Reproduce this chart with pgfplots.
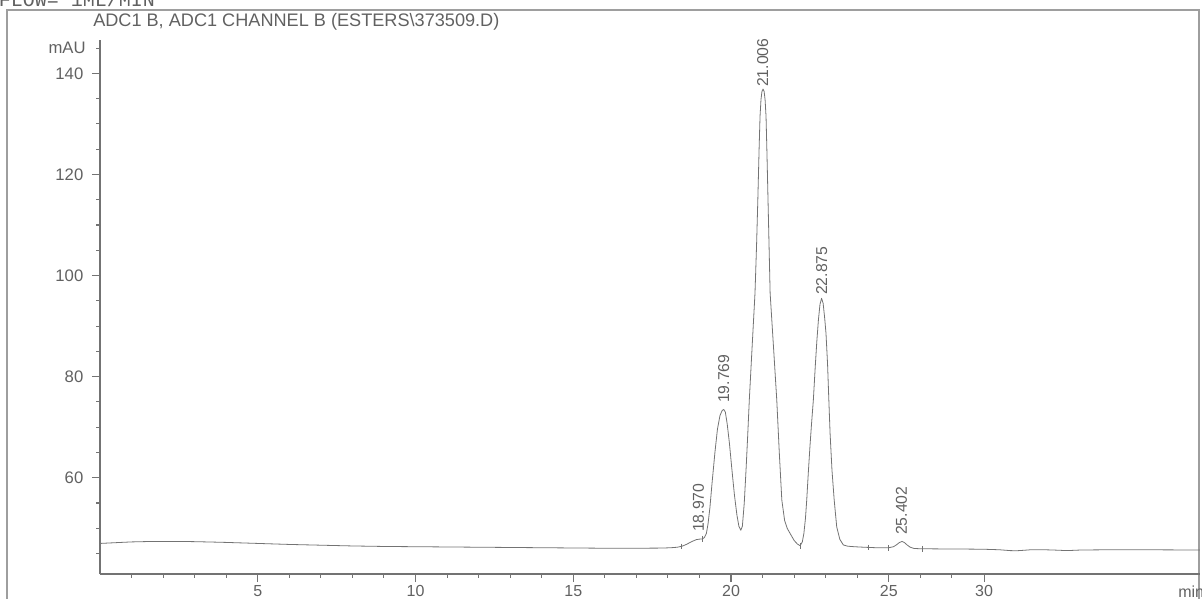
\documentclass[border=0pt]{standalone}
\usepackage{fontspec}
\setmainfont{Liberation Sans}
\newfontfamily\monofont{Liberation Mono}
\usepackage{pgfplots}
\pgfplotsset{compat=1.18}
\definecolor{txt}{gray}{0.38}
\definecolor{crv}{gray}{0.45}
\definecolor{axl}{gray}{0.45}
\definecolor{frm}{gray}{0.62}

\pgfplotstableread{
x y
0.00 47.00
0.50 47.15
1.00 47.30
1.50 47.37
2.00 47.40
2.50 47.40
3.00 47.35
3.50 47.28
4.00 47.20
4.50 47.10
5.00 47.00
5.50 46.90
6.00 46.80
7.00 46.65
8.00 46.50
9.00 46.40
10.00 46.35
11.00 46.30
12.00 46.25
13.00 46.20
14.00 46.15
15.00 46.10
16.00 46.05
17.00 46.05
17.80 46.08
18.10 46.15
18.30 46.25
18.45 46.45
18.60 46.85
18.75 47.35
18.90 47.75
19.00 47.85
19.10 47.90
19.16 48.20
19.22 49.00
19.27 50.80
19.33 54.00
19.40 59.00
19.49 65.00
19.57 69.60
19.65 72.30
19.72 73.30
19.77 73.50
19.82 73.00
19.88 70.60
19.95 66.80
20.03 61.50
20.11 56.50
20.19 52.50
20.25 50.40
20.31 49.60
20.36 50.40
20.42 55.00
20.48 62.00
20.53 68.50
20.58 75.40
20.64 82.50
20.70 89.50
20.76 96.50
20.81 106.00
20.85 115.00
20.89 125.00
20.92 131.50
20.95 134.80
20.98 136.40
21.015 136.90
21.05 136.40
21.08 134.80
21.11 131.50
21.14 124.00
21.18 113.00
21.24 96.50
21.30 90.50
21.37 83.50
21.45 75.40
21.53 65.00
21.61 55.60
21.70 51.50
21.78 50.00
21.87 49.00
22.00 47.60
22.10 46.90
22.19 46.55
22.26 47.30
22.31 49.00
22.36 52.00
22.40 55.60
22.45 61.00
22.50 66.00
22.55 70.50
22.61 75.40
22.67 82.00
22.72 87.00
22.77 91.20
22.82 94.30
22.87 95.50
22.92 94.50
22.97 91.50
23.01 88.60
23.06 82.50
23.10 75.50
23.14 68.80
23.20 61.50
23.27 55.60
23.35 50.30
23.45 47.80
23.56 46.70
23.70 46.45
23.90 46.35
24.20 46.25
24.60 46.15
25.00 46.15
25.15 46.35
25.25 46.75
25.33 47.15
25.42 47.40
25.50 47.15
25.58 46.70
25.68 46.25
25.80 46.00
26.00 45.95
26.50 45.92
27.00 45.90
27.50 45.88
28.00 45.85
28.50 45.75
28.85 45.58
29.05 45.55
29.30 45.65
29.50 45.75
29.90 45.75
30.20 45.70
30.50 45.62
30.80 45.62
31.10 45.70
31.50 45.72
32.00 45.75
33.00 45.75
34.00 45.72
34.86 45.70
}\signal

\pgfplotstableread{
x y lab
18.970 48.72 18.970
19.769 74.25 19.769
21.006 136.75 21.006
22.875 95.60 22.875
25.402 48.13 25.402
}\peaks

\begin{document}
\begin{tikzpicture}
\useasboundingbox (0,0) rectangle (901.5pt,-449.25pt);
\draw[frm, line width=1.1pt] (5.25pt,-7.5pt) rectangle (899.25pt,-470pt);
\node[anchor=base west, inner sep=0pt, font=\monofont\fontsize{15}{15}\selectfont, text=txt] at (-1pt,-5.25pt) {FLOW= 1ML/MIN};
\node[anchor=base west, inner sep=0pt, font=\fontsize{13.6}{15}\selectfont, text=txt] at (69.75pt,-20pt) {ADC1 B, ADC1 CHANNEL B (ESTERS\textbackslash 373509.D)};
\begin{axis}[
  at={(75pt,-430.5pt)}, anchor=south west,
  scale only axis, width=825pt, height=400.5pt,
  xmin=0, xmax=34.865, ymin=40.95, ymax=146.6,
  axis x line*=bottom, axis y line*=left,
  axis line style={axl, line width=0.9pt},
  tick align=outside,
  major tick length=6pt, minor tick length=2.8pt,
  tick style={axl, line width=0.8pt},
  xtick={5,10,15,20,25,28.02}, xticklabels={5,10,15,20,25,30},
  minor xtick={1,2,3,4,6,7,8,9,11,12,13,14,16,17,18,19,21,22,23,24,26,27},
  ytick={60,80,100,120,140},
  minor ytick={45,50,55,65,70,75,85,90,95,105,110,115,125,130,135},
  extra y ticks={145}, extra y tick labels={mAU},
  extra y tick style={major tick length=2.8pt, yticklabel style={xshift=-1.5pt}},
  yticklabel style={font=\fontsize{12.5}{14}\selectfont, text=txt, xshift=-3pt},
  xticklabel style={font=\fontsize{12}{14}\selectfont, text=txt, yshift=1pt},
  /pgf/number format/assume math mode=true,
  clip=false,
]
\addplot[crv, line width=0.6pt, line join=round, mark=none] table[x=x, y=y] {\signal};
\addplot[only marks, mark=|, mark size=2.2pt, mark options={crv, line width=0.55pt}] coordinates {
(18.42,46.40) (19.10,47.90) (22.19,46.55) (24.34,46.20) (25.00,46.15) (26.07,45.95)};
\addplot[draw=none, mark=none, nodes near coords, point meta=explicit symbolic,
  nodes near coords style={rotate=90, anchor=west, inner sep=2pt, font=\fontsize{11.8}{13}\selectfont, text=txt}]
  table[x=x, y=y, meta=lab] {\peaks};
\node[anchor=north west, inner sep=0pt, font=\fontsize{12}{14}\selectfont, text=txt] at (axis cs:34.17,40.95) [yshift=-8.5pt] {min};
\end{axis}
\end{tikzpicture}
\end{document}
